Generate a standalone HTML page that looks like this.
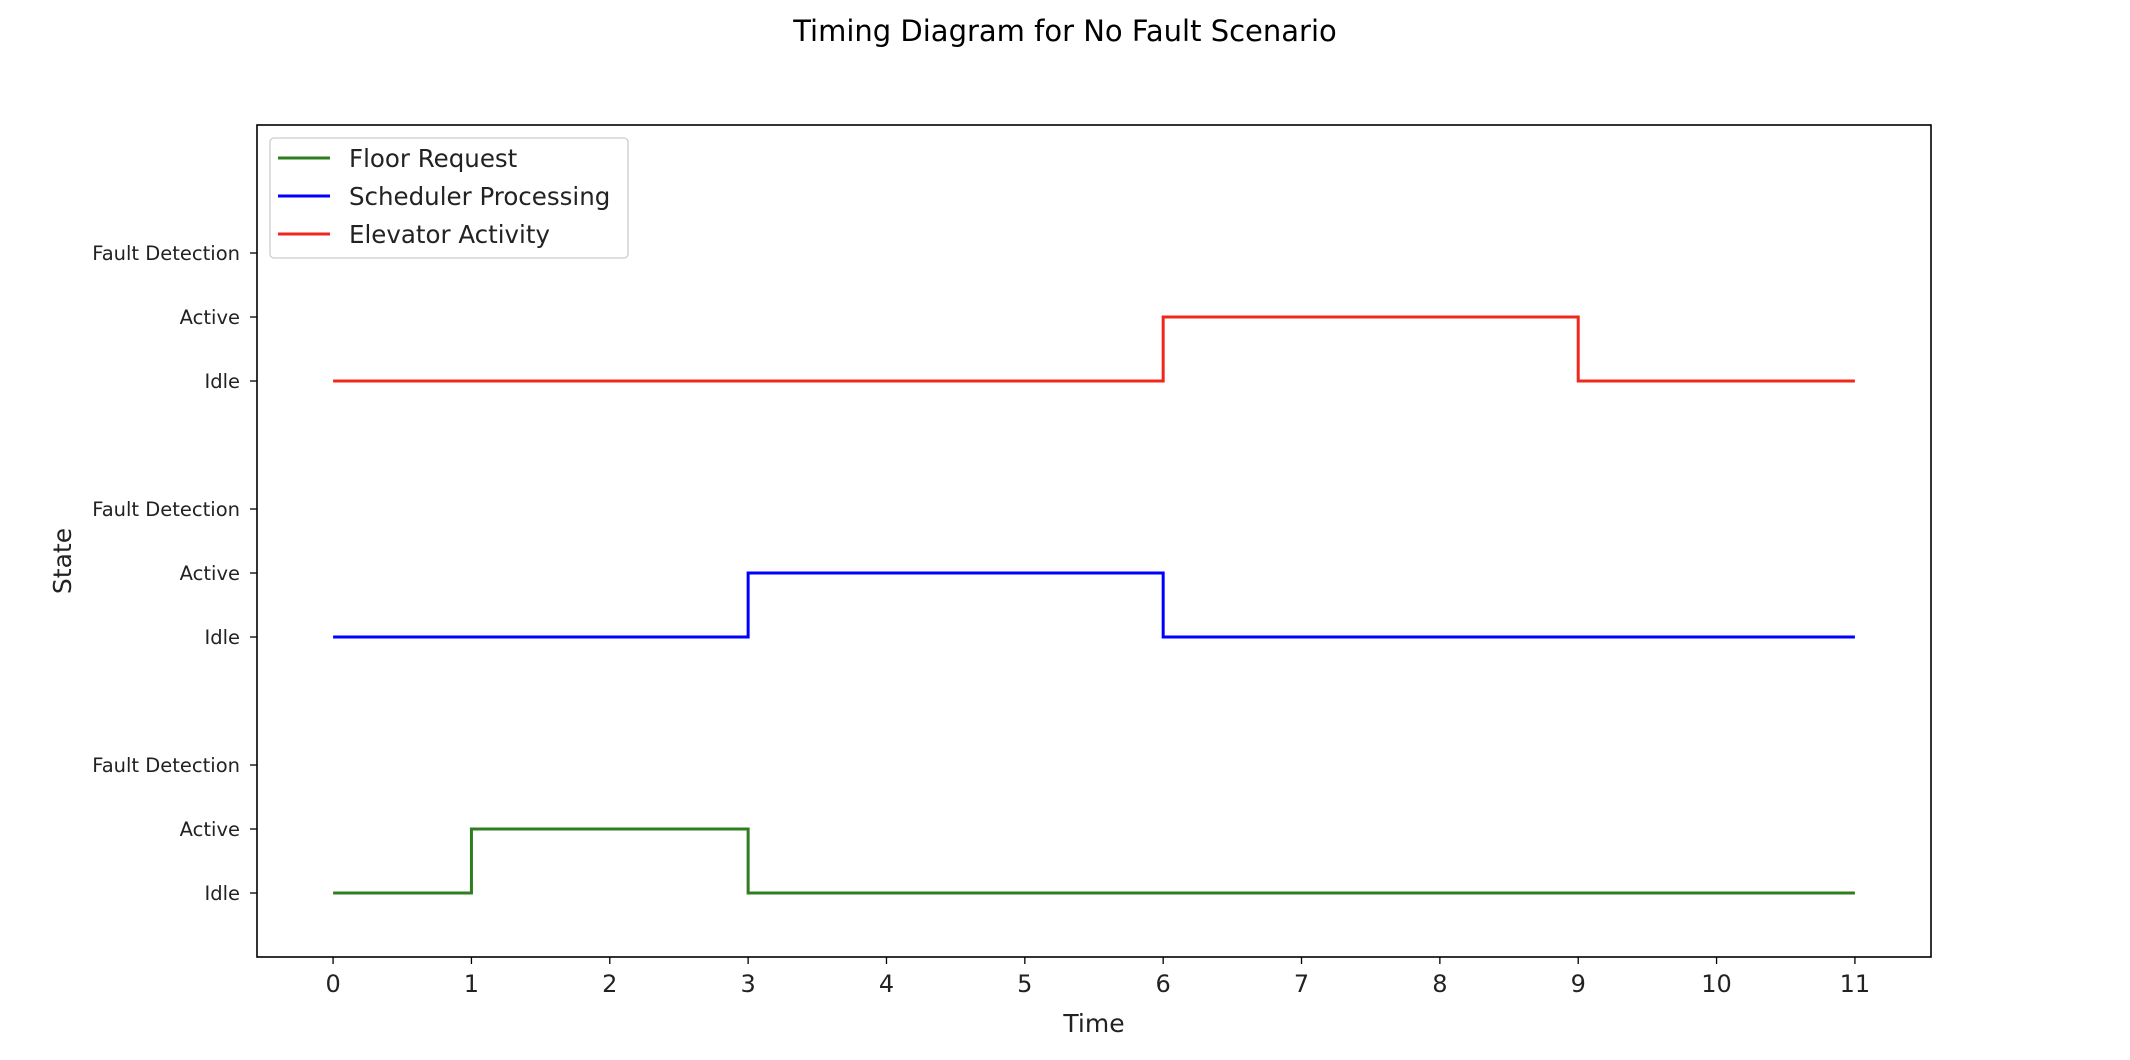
<!DOCTYPE html>
<html><head><meta charset="utf-8"><style>
body{margin:0;background:#fff;}
svg{display:block;font-family:"DejaVu Sans","Liberation Sans",sans-serif;}
</style></head><body>
<svg id="chart" width="2130" height="1060" viewBox="0 0 2130 1060">
<text x="1065" y="41" text-anchor="middle" font-size="29" fill="#000">Timing Diagram for No Fault Scenario</text>
<g id="plot"></g>
</svg>
<script>
const times = [0,1,2,3,4,5,6,7,8,9,10,11];
const floorRequest = [0,1,1,0,0,0,0,0,0,0,0,0];
const schedulerProcessing = [0,0,0,1,1,1,0,0,0,0,0,0];
const elevatorActivity = [0,0,0,0,0,0,1,1,1,0,0,0];
const seriesNames = ["Floor Request","Scheduler Processing","Elevator Activity"];
const seriesOffsets = [0,4,8];
const stateLabels = ["Idle","Active","Fault Detection"];
const xTicks = [0,1,2,3,4,5,6,7,8,9,10,11];

const L=257,R=1931,T=125,B=957;
const xmin=-0.55,xmax=11.55,ymin=-1,ymax=12;
const X=v=>L+(v-xmin)/(xmax-xmin)*(R-L);
const Y=v=>B-(v-ymin)/(ymax-ymin)*(B-T);
const NS="http://www.w3.org/2000/svg";
const g=document.getElementById('plot');
function mk(t,a){const e=document.createElementNS(NS,t);for(const k in a)e.setAttribute(k,a[k]);g.appendChild(e);return e;}

const colors=["#2f7d1f","#0000ff","#f0281c"];
const data=[floorRequest,schedulerProcessing,elevatorActivity];
data.forEach((s,i)=>{
  let d="";
  for(let k=0;k<times.length;k++){
    const y=Y(s[k]+seriesOffsets[i]);
    if(k===0) d+=`M${X(times[k])},${y}`;
    else d+=`L${X(times[k])},${Y(s[k-1]+seriesOffsets[i])}L${X(times[k])},${y}`;
  }
  const p=mk('path',{d:d,fill:'none',stroke:colors[i],'stroke-width':3});
  
  
});

const frame=mk('rect',{x:L,y:T,width:R-L,height:B-T,fill:'none',stroke:'#000','stroke-width':1.6});



xTicks.forEach(v=>{
  mk('line',{x1:X(v),x2:X(v),y1:B,y2:B+7,stroke:'#000','stroke-width':1.3});
  const t=mk('text',{x:X(v),y:B+35,'text-anchor':'middle','font-size':24,fill:'#222'});
  t.textContent=v;
  
  
});
seriesOffsets.forEach(o=>{
  stateLabels.forEach((s,j)=>{
    const y=Y(o+j);
    mk('line',{x1:L-7,x2:L,y1:y,y2:y,stroke:'#000','stroke-width':1.3});
    const t=mk('text',{x:L-17,y:y+7,'text-anchor':'end','font-size':19.5,fill:'#222'});
    t.textContent=s;
    
    
  });
});
const xt=mk('text',{x:(L+R)/2,y:1032,'text-anchor':'middle','font-size':25,fill:'#222'});
xt.textContent="Time";


const yt=mk('text',{x:71,y:561,'text-anchor':'middle','font-size':25,fill:'#222',transform:'rotate(-90 71 561)'});
yt.textContent="State";



const lg=mk('rect',{x:270,y:138,width:358,height:120,rx:4,fill:'#fff',stroke:'#ccc','stroke-width':1.3});


seriesNames.forEach((n,i)=>{
  const y=158+i*38;
  mk('line',{x1:278,x2:330,y1:y,y2:y,stroke:colors[i],'stroke-width':3});
  const t=mk('text',{x:349,y:y+9,'font-size':24.5,fill:'#222'});
  t.textContent=n;
  
  
});
</script>
</body></html>
